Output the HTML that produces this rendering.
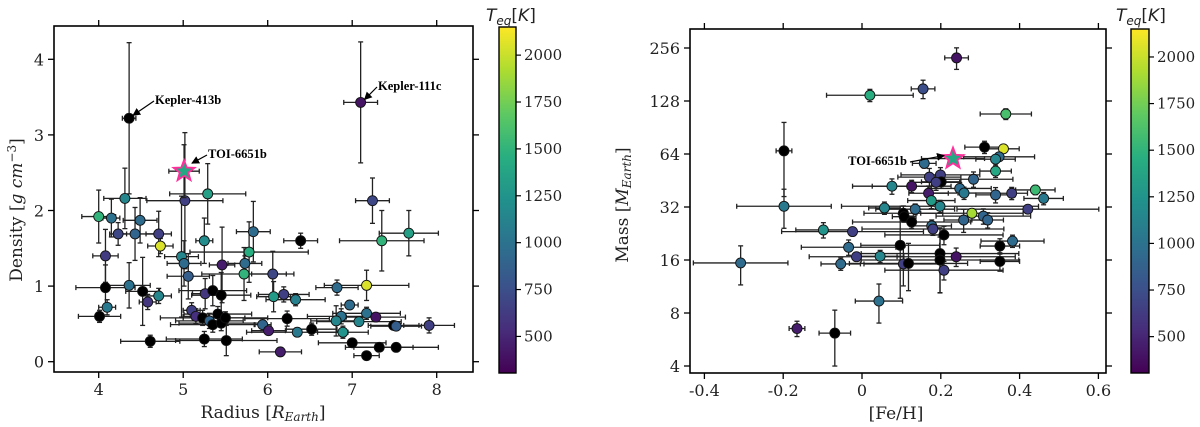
<!DOCTYPE html>
<html><head><meta charset="utf-8"><style>
html,body{margin:0;padding:0;background:#fff;}
svg{display:block;}
text{font-family:"DejaVu Serif","Liberation Serif",serif;fill:#222;}
.ann{font-family:"Liberation Serif",serif;font-weight:bold;font-size:12.5px;fill:#000;}
</style></head><body>
<svg id="fig" width="1200" height="427" viewBox="0 0 1200 427" xmlns="http://www.w3.org/2000/svg">
<defs>
<marker id="ah" markerWidth="8" markerHeight="8" refX="7" refY="4" orient="auto" markerUnits="userSpaceOnUse"><path d="M0,0 L8,4 L0,8 z" fill="#000"/></marker>
<linearGradient id="vir" x1="0" y1="1" x2="0" y2="0">
<stop offset="0" stop-color="#440154"/><stop offset="0.125" stop-color="#472d7b"/><stop offset="0.25" stop-color="#3b528b"/><stop offset="0.375" stop-color="#2c728e"/><stop offset="0.5" stop-color="#21918c"/><stop offset="0.625" stop-color="#28ae80"/><stop offset="0.75" stop-color="#5ec962"/><stop offset="0.875" stop-color="#addc30"/><stop offset="1" stop-color="#fde725"/>
</linearGradient>
</defs>
<g id="left"></g>
<g id="right"></g>
</svg>
<script>
// ---- Left panel data: radius (R_Earth), density (g/cm3), Teq (K, null = no Teq -> black)
const radius = [4.31,4.0,4.15,4.49,4.23,4.43,4.71,4.73,4.08,5.02,5.29,5.25,5.83,5.78,6.39,4.98,5.01,5.46,5.73,5.72,5.06,6.06,7.24,7.35,7.67,4.08,4.36,4.52,4.71,4.58,4.10,4.01,5.26,5.35,5.45,5.10,5.15,5.23,5.31,5.35,5.41,5.45,5.50,4.61,5.25,5.51,6.07,6.19,6.33,6.23,5.94,6.01,6.35,6.52,6.15,6.82,7.17,6.97,6.87,6.81,7.08,7.17,7.28,6.89,7.49,7.52,7.91,7.00,7.32,7.52,7.17,4.36,7.10];
const density = [2.16,1.92,1.90,1.87,1.69,1.69,1.69,1.53,1.40,2.13,2.22,1.60,1.72,1.45,1.60,1.39,1.30,1.28,1.30,1.16,1.13,1.16,2.13,1.60,1.70,0.98,1.01,0.93,0.87,0.79,0.72,0.60,0.90,0.94,0.88,0.68,0.60,0.58,0.54,0.49,0.63,0.51,0.58,0.27,0.30,0.28,0.86,0.89,0.82,0.57,0.49,0.41,0.39,0.43,0.13,0.98,1.01,0.75,0.60,0.54,0.53,0.64,0.59,0.39,0.48,0.47,0.48,0.25,0.19,0.19,0.08,3.22,3.43];
const teqL = [1150,1500,1000,950,700,900,650,2050,620,650,1350,1200,950,1450,null,1150,950,450,950,1500,850,700,700,1500,1350,null,1000,null,1150,600,1050,null,600,null,null,650,550,null,900,null,null,null,null,null,null,null,1300,650,1100,null,900,450,1050,null,450,950,2050,950,1000,1150,1150,1000,400,1250,null,850,650,null,null,null,null,null,400];
const radErr = [0.25,0.2,0.1,0.2,0.1,0.25,0.15,0.15,0.15,0.45,0.45,0.1,0.2,0.7,0.2,0.2,0.2,0.15,0.2,0.5,0.25,0.25,0.2,0.5,0.35,0.35,0.25,0.2,0.15,0.1,0.1,0.25,0.15,0.4,0.35,0.1,0.15,0.5,0.4,0.5,0.4,0.5,0.5,0.35,0.45,0.6,0.2,0.3,0.35,0.5,0.1,0.2,0.6,0.3,0.25,0.25,0.5,0.1,0.4,0.3,0.5,0.4,0.35,0.3,0.3,0.3,0.3,0.4,0.4,0.5,0.15,0.08,0.2];
const denErr = [0.4,0.35,0.25,0.3,0.15,0.35,0.3,0.1,0.35,0.9,0.4,0.3,0.4,0.4,0.1,0.8,0.3,0.5,0.1,0.35,0.3,0.3,0.3,0.4,0.3,0.3,0.3,0.45,0.1,0.1,0.1,0.08,0.2,0.2,0.3,0.1,0.1,0.1,0.1,0.1,0.1,0.1,0.08,0.08,0.1,0.2,0.2,0.1,0.08,0.1,0.08,0.05,0.05,0.08,0.05,0.1,0.2,0.05,0.1,0.2,0.05,0.08,0.05,0.08,0.05,0.05,0.1,0.05,0.05,0.05,0.05,1.0,0.8];
const starL = {r:5.01, d:2.52, teq:1400};
const xTicksL = [4,5,6,7,8];
const yTicksL = [0,1,2,3,4];

// ---- Right panel data: [Fe/H], mass (M_Earth), Teq
const feh = [-0.198,-0.198,-0.308,-0.098,-0.024,-0.034,-0.014,-0.054,0.046,0.043,-0.165,-0.069,0.311,0.359,0.348,0.339,0.339,0.158,0.171,0.199,0.201,0.188,0.283,0.076,0.126,0.169,0.176,0.248,0.259,0.339,0.380,0.440,0.461,0.057,0.198,0.135,0.105,0.107,0.126,0.177,0.180,0.279,0.258,0.308,0.319,0.421,0.208,0.097,0.198,0.198,0.239,0.105,0.118,0.208,0.350,0.382,0.350];
const mass = [66.7,32.3,15.4,23.7,23.2,18.9,16.7,15.2,16.8,9.35,6.53,6.15,70,68.5,61.7,59.8,51.2,56.6,47.3,48.7,44.5,44.2,46,42,42,38.3,34.8,40.8,38.4,37.5,38.3,40,35.8,31.6,32.3,31.1,29.5,28.2,26.3,25,24,29.5,27,28.4,27,31.1,22.2,19.4,17.4,16,16.7,15.2,15.3,14,19.2,20.5,15.7];
const teqR = [null,1050,950,1250,650,950,650,950,1150,1000,450,null,null,2050,950,1150,1400,950,650,650,null,650,900,1150,400,450,1300,950,1050,900,650,1550,1050,1150,1150,950,null,null,null,950,650,1900,900,900,900,650,null,null,null,null,400,650,null,650,null,950,null];
const fehErr = [0.02,0.12,0.12,0.07,0.18,0.12,0.12,0.05,0.06,0.06,0.02,0.04,0.05,0.04,0.09,0.05,0.04,0.03,0.08,0.10,0.05,0.06,0.1,0.1,0.1,0.05,0.06,0.08,0.08,0.05,0.04,0.05,0.05,0.04,0.25,0.1,0.1,0.03,0.15,0.05,0.18,0.13,0.05,0.12,0.04,0.18,0.15,0.1,0.2,0.2,0.15,0.1,0.15,0.15,0.05,0.08,0.05];
const massErr = [0.45,0.25,0.25,0.1,0.05,0.1,0.05,0.08,0.08,0.25,0.1,0.35,0.08,0.05,0.05,0.05,0.08,0.06,0.12,0.1,0.08,0.1,0.1,0.1,0.08,0.1,0.1,0.08,0.08,0.1,0.08,0.06,0.08,0.08,0.08,0.07,0.1,0.07,0.08,0.08,0.08,0.06,0.15,0.1,0.1,0.05,0.12,0.5,0.4,0.35,0.12,0.25,0.3,0.12,0.1,0.08,0.12];
const hiFeh = [0.02,0.155,0.24,0.365];
const hiMass = [138,150,225,108];
const hiTeq = [1450,750,400,1600];
const hiFehErr = [0.11,0.03,0.03,0.065];
const hiMassErr = [0.08,0.12,0.14,0.07];
const starR = {f:0.231, m:60.3, teq:1400};
const xTicksR = [-0.4,-0.2,0,0.2,0.4,0.6];
const xTickLabR = ["-0.4","-0.2","0","0.2","0.4","0.6"];
const yTicksR = [4,8,16,32,64,128,256];
const cbTicks = [500,750,1000,1250,1500,1750,2000];

const NS="http://www.w3.org/2000/svg";
function mk(parent, tag, attrs, txt){const e=document.createElementNS(NS,tag);for(const k in attrs)e.setAttribute(k,attrs[k]);if(txt!==undefined)e.textContent=txt;parent.appendChild(e);return e;}
const VIR=["#440154","#472d7b","#3b528b","#2c728e","#21918c","#28ae80","#5ec962","#addc30","#fde725"];
function hx(c){return [parseInt(c.substr(1,2),16),parseInt(c.substr(3,2),16),parseInt(c.substr(5,2),16)];}
function viridis(t){t=Math.max(0,Math.min(1,t));const p=t*8,i=Math.min(7,Math.floor(p)),f=p-i;const a=hx(VIR[i]),b=hx(VIR[i+1]);return "rgb("+a.map((v,k)=>Math.round(v+(b[k]-v)*f)).join(",")+")";}
const VMIN=305,VMAX=2150;
function col(t){return t===null?"#000":viridis((t-VMIN)/(VMAX-VMIN));}

function starPath(cx,cy,R){const r=R*0.42;let d="";for(let i=0;i<10;i++){const a=-Math.PI/2+i*Math.PI/5,rr=i%2?r:R;d+=(i?"L":"M")+(cx+rr*Math.cos(a)).toFixed(1)+","+(cy+rr*Math.sin(a)).toFixed(1);}return d+"Z";}

function drawErr(g,x,y,x0,x1,y0,y1){
  mk(g,"line",{x1:x0,y1:y,x2:x1,y2:y,stroke:"#222","stroke-width":1.3});
  mk(g,"line",{x1:x,y1:y0,x2:x,y2:y1,stroke:"#222","stroke-width":1.3});
  mk(g,"line",{x1:x0,y1:y-2.5,x2:x0,y2:y+2.5,stroke:"#222","stroke-width":1.3});
  mk(g,"line",{x1:x1,y1:y-2.5,x2:x1,y2:y+2.5,stroke:"#222","stroke-width":1.3});
  mk(g,"line",{x1:x-2.5,y1:y0,x2:x+2.5,y2:y0,stroke:"#222","stroke-width":1.3});
  mk(g,"line",{x1:x-2.5,y1:y1,x2:x+2.5,y2:y1,stroke:"#222","stroke-width":1.3});
}

function frame(g,L,T,R,B){mk(g,"rect",{x:L,y:T,width:R-L,height:B-T,fill:"none",stroke:"#000","stroke-width":1.6});}

function colorbar(g,x,y0,y1,w,tx){
  const cb=mk(g,"g",{});
  
  
  mk(cb,"rect",{x:x,y:y0,width:w,height:y1-y0,fill:"url(#vir)",stroke:"#000","stroke-width":1.4});
  const cy=v=>y1-(v-VMIN)/(VMAX-VMIN)*(y1-y0);
  cbTicks.forEach(v=>{mk(cb,"line",{x1:x+w,y1:cy(v),x2:x+w+5,y2:cy(v),stroke:"#000","stroke-width":1.2});
    const t=mk(cb,"text",{x:x+w+8,y:cy(v)+5,"font-size":15},String(v));
    
    });
  const tt=mk(cb,"text",{x:tx,y:21,"font-size":17,"font-style":"italic",style:"font-family:'DejaVu Sans',sans-serif"});
  
  
  mk(tt,"tspan",{},"T");mk(tt,"tspan",{"font-size":12,dy:4},"eq");mk(tt,"tspan",{dy:-4,"font-style":"normal"},"[");mk(tt,"tspan",{},"K");mk(tt,"tspan",{"font-style":"normal"},"]");
}

// ---- LEFT
(function(){
  const g=document.getElementById("left");
  const L=54,T=26,R=473,B=372;
  const X=v=>98.7+(v-4)*84.5, Y=v=>361.7-v*75.6;
  const pts=mk(g,"g",{});
  
  
  radius.forEach((r,i)=>{drawErr(pts,X(r),Y(density[i]),X(r-radErr[i]),X(r+radErr[i]),Y(density[i]-denErr[i]),Y(density[i]+denErr[i]));});
  radius.forEach((r,i)=>{const c=mk(pts,"circle",{cx:X(r),cy:Y(density[i]),r:5,fill:col(teqL[i]),stroke:"#111","stroke-width":0.9});
    
    });
  drawErr(pts,X(starL.r),Y(starL.d),X(starL.r-0.18),X(starL.r+0.18),Y(starL.d-0.35),Y(starL.d+0.35));
  const s=mk(pts,"path",{d:starPath(X(starL.r),Y(starL.d),11),fill:col(starL.teq),stroke:"#ff2e9a","stroke-width":1.8});
  
  
  frame(g,L,T,R,B);
  xTicksL.forEach(v=>{mk(g,"line",{x1:X(v),y1:B,x2:X(v),y2:B+6,stroke:"#000","stroke-width":1.3});mk(g,"line",{x1:X(v),y1:T,x2:X(v),y2:T-6,stroke:"#000","stroke-width":1.3});
    const t=mk(g,"text",{x:X(v),y:B+23,"font-size":16,"text-anchor":"middle"},String(v));
    
    });
  yTicksL.forEach(v=>{mk(g,"line",{x1:L,y1:Y(v),x2:L-6,y2:Y(v),stroke:"#000","stroke-width":1.3});mk(g,"line",{x1:R,y1:Y(v),x2:R+6,y2:Y(v),stroke:"#000","stroke-width":1.3});
    const t=mk(g,"text",{x:L-10,y:Y(v)+6,"font-size":16,"text-anchor":"end"},String(v));
    
    });
  const xl=mk(g,"text",{x:263,y:418,"font-size":17,"text-anchor":"middle"});
  
  
  mk(xl,"tspan",{},"Radius [");mk(xl,"tspan",{"font-style":"italic"},"R");mk(xl,"tspan",{"font-size":12,dy:3,"font-style":"italic"},"Earth");mk(xl,"tspan",{dy:-3},"]");
  const yl=mk(g,"text",{transform:"translate(22,210) rotate(-90)","font-size":17,"text-anchor":"middle"});
  
  
  mk(yl,"tspan",{},"Density [");mk(yl,"tspan",{"font-style":"italic"},"g cm");mk(yl,"tspan",{"font-size":12,dy:-6},"−3");mk(yl,"tspan",{dy:6},"]");
  const a1=mk(g,"text",{x:155,y:104,class:"ann"},"Kepler-413b");
  mk(g,"line",{x1:154,y1:101,x2:X(4.36)+4,y2:Y(3.22)-3,stroke:"#000","stroke-width":1.2,"marker-end":"url(#ah)"});
  const a2=mk(g,"text",{x:378,y:90,class:"ann"},"Kepler-111c");
  mk(g,"line",{x1:377,y1:87,x2:X(7.10)+4,y2:Y(3.43)-3,stroke:"#000","stroke-width":1.2,"marker-end":"url(#ah)"});
  const a3=mk(g,"text",{x:208,y:158,class:"ann"},"TOI-6651b");
  mk(g,"line",{x1:207,y1:155,x2:X(starL.r)+8,y2:Y(starL.d)-8,stroke:"#000","stroke-width":1.2,"marker-end":"url(#ah)"});
  colorbar(g,499,27,373,17,486);
})();

// ---- RIGHT
(function(){
  const g=document.getElementById("right");
  const L=690,T=29,R=1106,B=373;
  const X=v=>862+v*394, Y=m=>366-(Math.log2(m)-2)*53;
  const pts=mk(g,"g",{});
  
  
  const allF=feh.concat(hiFeh), allM=mass.concat(hiMass), allT=teqR.concat(hiTeq), allFE=fehErr.concat(hiFehErr), allME=massErr.concat(hiMassErr);
  allF.forEach((f,i)=>{drawErr(pts,X(f),Y(allM[i]),X(f-allFE[i]),X(f+allFE[i]),Y(allM[i]*(1-allME[i])),Y(allM[i]*(1+allME[i])));});
  allF.forEach((f,i)=>{const c=mk(pts,"circle",{cx:X(f),cy:Y(allM[i]),r:5,fill:col(allT[i]),stroke:"#111","stroke-width":0.9});
    
    });
  drawErr(pts,X(starR.f),Y(starR.m),X(starR.f-0.08),X(starR.f+0.08),Y(starR.m*0.95),Y(starR.m*1.05));
  const s=mk(pts,"path",{d:starPath(X(starR.f),Y(starR.m),11),fill:col(starR.teq),stroke:"#ff2e9a","stroke-width":1.8});
  
  
  frame(g,L,T,R,B);
  xTicksR.forEach((v,i)=>{mk(g,"line",{x1:X(v),y1:B,x2:X(v),y2:B+6,stroke:"#000","stroke-width":1.3});mk(g,"line",{x1:X(v),y1:T,x2:X(v),y2:T-6,stroke:"#000","stroke-width":1.3});
    const t=mk(g,"text",{x:X(v),y:B+23,"font-size":16,"text-anchor":"middle"},xTickLabR[i]);
    
    });
  yTicksR.forEach(v=>{mk(g,"line",{x1:L,y1:Y(v),x2:L-6,y2:Y(v),stroke:"#000","stroke-width":1.3});mk(g,"line",{x1:R,y1:Y(v),x2:R+6,y2:Y(v),stroke:"#000","stroke-width":1.3});
    const t=mk(g,"text",{x:L-10,y:Y(v)+6,"font-size":16,"text-anchor":"end"},String(v));
    
    });
  const xl=mk(g,"text",{x:896,y:419,"font-size":17,"text-anchor":"middle"},"[Fe/H]");
  
  
  const yl=mk(g,"text",{transform:"translate(628,205) rotate(-90)","font-size":17,"text-anchor":"middle"});
  
  
  mk(yl,"tspan",{},"Mass [");mk(yl,"tspan",{"font-style":"italic"},"M");mk(yl,"tspan",{"font-size":12,dy:3,"font-style":"italic"},"Earth");mk(yl,"tspan",{dy:-3},"]");
  const a=mk(g,"text",{x:907,y:165,class:"ann","text-anchor":"end"},"TOI-6651b");
  mk(g,"line",{x1:910,y1:162,x2:X(starR.f)-9,y2:Y(starR.m)-3,stroke:"#000","stroke-width":1.2,"marker-end":"url(#ah)"});
  colorbar(g,1131,29,373,18,1116);
})();
</script>
</body></html>
